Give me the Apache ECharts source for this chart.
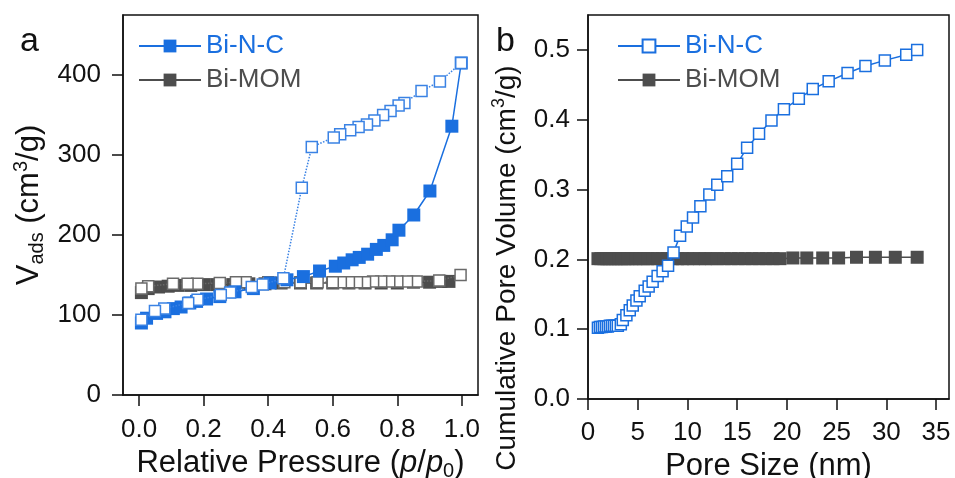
<!DOCTYPE html>
<html>
<head>
<meta charset="utf-8">
<script src="https://cdn.jsdelivr.net/npm/echarts@6/dist/echarts.min.js"></script>
<style>
html,body{margin:0;padding:0;background:#fff;}
#main{width:955px;height:478px;}
</style>
</head>
<body>
<div id="main"></div>
<script>
// panel a: N2 isotherms
var ncAdsX = [0.007,0.023,0.054,0.08,0.106,0.13,0.157,0.178,0.209,0.25,0.297,0.354,0.406,0.458,0.509,0.559,0.608,0.634,0.66,0.682,0.708,0.735,0.758,0.784,0.805,0.851,0.901,0.969,0.998];
var ncAdsY = [90,96,102,104,108,110,115,117,120,123,129,133,140,144,148,155,161,165,169,172,176,182,187,194,206,225,255,336,415];
var ncDesX = [0.998,0.932,0.875,0.822,0.804,0.779,0.756,0.729,0.706,0.68,0.654,0.623,0.603,0.535,0.504,0.447,0.383,0.349,0.282,0.253,0.181,0.152,0.078,0.049,0.007];
var ncDesY = [415,392,380,365,362,355,350,343,338,335,331,326,322,310,259,146,138,135,128,125,119,115,108,105,94];
var momAdsX = [0.007,0.028,0.06,0.09,0.12,0.16,0.2,0.24,0.29,0.34,0.39,0.44,0.5,0.55,0.6,0.65,0.7,0.75,0.8,0.85,0.9,0.935,0.96];
var momAdsY = [128,133,135,136,137,137,138,138,138,139,139,140,140,140,140,140,140,140,140,141,141,142,142];
var momDesX = [0.996,0.93,0.86,0.83,0.8,0.775,0.75,0.725,0.7,0.675,0.65,0.625,0.6,0.553,0.5,0.45,0.4,0.33,0.3,0.25,0.18,0.15,0.105,0.028,0.007];
var momDesY = [150,143,142,142,142,142,142,142,141,141,141,141,141,141,141,141,141,141,141,140,139,139,139,136,133];

// panel b: cumulative pore volume
var ncPoreX = [1.0,1.2,1.4,1.6,1.8,2.0,2.2,2.4,2.6,2.8,3.0,3.3,3.5,3.86,4.2,4.5,4.87,5.2,5.7,6.1,6.5,7.0,7.5,8.05,8.6,9.26,9.93,10.56,11.3,12.2,13.0,14.0,15.0,16.0,17.2,18.45,19.7,21.2,22.6,24.2,26.1,27.9,29.85,32.0,33.1];
var ncPoreY = [0.102,0.103,0.103,0.104,0.104,0.104,0.105,0.105,0.105,0.105,0.105,0.107,0.113,0.12,0.127,0.134,0.141,0.147,0.155,0.161,0.168,0.176,0.183,0.191,0.21,0.234,0.247,0.26,0.276,0.293,0.307,0.319,0.337,0.36,0.38,0.399,0.415,0.43,0.444,0.455,0.467,0.477,0.485,0.493,0.5];
var momPoreX = [1.0,1.3,1.6,1.9,2.2,2.5,2.8,3.1,3.4,3.7,4.0,4.4,4.8,5.2,5.6,6.0,6.5,7.0,7.5,8.0,8.5,9.0,9.5,10.0,10.6,11.2,11.8,12.4,13.0,13.7,14.4,15.1,15.8,16.5,17.2,17.9,18.6,19.3,20.6,22.0,23.6,25.2,27.0,28.9,30.9,33.1];
var momPoreY = [0.201,0.201,0.201,0.201,0.201,0.201,0.201,0.201,0.201,0.201,0.201,0.201,0.201,0.201,0.201,0.201,0.201,0.201,0.201,0.201,0.201,0.201,0.201,0.201,0.201,0.201,0.201,0.201,0.201,0.201,0.201,0.201,0.201,0.201,0.201,0.201,0.201,0.201,0.202,0.202,0.202,0.202,0.203,0.203,0.203,0.203];

// ticks
var ticksAX = [0,0.2,0.4,0.6,0.8,1.0];
var ticksAY = [0,100,200,300,400];
var ticksBX = [0,5,10,15,20,25,30,35];
var ticksBY = [0,0.1,0.2,0.3,0.4,0.5];

var blue = '#1a6fdf';
var grey = '#4d4d4d';
var ink = '#111';
var font = 'Liberation Sans, Arial, sans-serif';

function zip(xs, ys) {
	var out = [];
	for (var i = 0; i < xs.length; i++) out.push([xs[i], ys[i]]);
	return out;
}

function richOf(size) {
	var sub = Math.round(size * 0.65);
	return {
		n: {fontSize: size, lineHeight: size + 5, color: ink, fontFamily: font},
		i: {fontSize: size, lineHeight: size + 5, color: ink, fontFamily: font, fontStyle: 'italic'},
		s: {fontSize: sub, lineHeight: 14, verticalAlign: 'bottom', color: ink, fontFamily: font},
		p: {fontSize: sub, lineHeight: 16, verticalAlign: 'top', color: ink, fontFamily: font}
	};
}

function axisOf(idx, min, max, ticks, fmt, margin) {
	return {
		type: 'value', gridIndex: idx, min: min, max: max,
		splitLine: {show: false},
		axisLine: {onZero: false, lineStyle: {color: ink, width: 1.5}},
		axisTick: {length: 11, customValues: ticks, lineStyle: {color: ink, width: 1.5}},
		axisLabel: {customValues: ticks, formatter: fmt, color: ink, fontSize: 26, fontFamily: font, margin: margin},
		nameLocation: 'middle',
		nameTextStyle: {color: ink, fontFamily: font, rich: richOf(31)}
	};
}

var xa = axisOf(0, -0.05, 1.05, ticksAX, function (v) { return v.toFixed(1); }, 22);
xa.name = '{n|Relative Pressure (}{i|p}{n|/}{i|p}{s|0}{n|)}';
xa.nameGap = 44;
var xb = axisOf(1, 0, 36.3, ticksBX, function (v) { return String(v); }, 21);
xb.name = '{n|Pore Size (nm)}';
xb.nameGap = 42;
var ya = axisOf(0, 0, 475, ticksAY, function (v) { return String(v); }, 22);
ya.name = '{n|V}{s|ads}{n| (cm}{p|3}{n|/g)}';
ya.nameGap = 76;
ya.nameRotate = 90;
var yb = axisOf(1, 0, 0.55, ticksBY, function (v) { return v.toFixed(1); }, 18);

var chart = echarts.init(document.getElementById('main'));

function sq(name, xi, xs, ys, filled, color, size, lineType, z) {
	return {
		name: name, type: 'line', xAxisIndex: xi, yAxisIndex: xi,
		data: zip(xs, ys), symbol: 'rect', symbolSize: size, showAllSymbol: true,
		z: z,
		lineStyle: {color: color, width: 1.5, type: lineType},
		itemStyle: filled ? {color: color, borderColor: color, borderWidth: 0}
		                  : {color: '#fff', borderColor: color, borderWidth: 1.5}
	};
}

var option = {
	backgroundColor: '#fff',
	animation: false,
	grid: [
		{left: 123, top: 15, width: 355, height: 380, show: true, borderColor: ink, borderWidth: 1.5, outerBoundsMode: 'none', containLabel: false},
		{left: 588, top: 15, width: 361, height: 384, show: true, borderColor: ink, borderWidth: 1.5, outerBoundsMode: 'none', containLabel: false}
	],
	xAxis: [xa, xb],
	yAxis: [ya, yb],
	legend: [
		{
			left: 133, top: 28, orient: 'vertical', itemWidth: 62, itemHeight: 16, itemGap: 8,
			textStyle: {fontSize: 26, fontFamily: font},
			formatter: function (n) { return n.split(' (')[0]; },
			data: [{name: 'Bi-N-C (a)', textStyle: {color: blue}}, {name: 'Bi-MOM (a)', textStyle: {color: grey}}]
		},
		{
			left: 612, top: 28, orient: 'vertical', itemWidth: 62, itemHeight: 16, itemGap: 8,
			textStyle: {fontSize: 26, fontFamily: font},
			formatter: function (n) { return n.split(' (')[0]; },
			data: [{name: 'Bi-N-C (b)', textStyle: {color: blue}}, {name: 'Bi-MOM (b)', textStyle: {color: grey}}]
		}
	],
	graphic: [
		{type: 'text', left: 20, top: 25, style: {text: 'a', fontSize: 34, fontFamily: font, fill: ink}},
		{type: 'text', left: 496, top: 25, style: {text: 'b', fontSize: 34, fontFamily: font, fill: ink}},
		// panel b y title sits lower than the axis middle, so it is placed by hand
		{
			type: 'text', x: 507, y: 268, rotation: Math.PI / 2,
			style: {
				text: '{n|Cumulative Pore Volume (cm}{p|3}{n|/g)}',
				rich: richOf(28), align: 'center', verticalAlign: 'middle', fill: ink
			}
		}
	],
	series: [
		sq('Bi-MOM (a)', 0, momAdsX, momAdsY, true, grey, 13, 'solid', 2),
		sq('Bi-MOM des', 0, momDesX, momDesY, false, '#6a6a6a', 11, 'dotted', 3),
		sq('Bi-N-C (a)', 0, ncAdsX, ncAdsY, true, blue, 13, 'solid', 4),
		sq('Bi-N-C des', 0, ncDesX, ncDesY, false, '#3a82e4', 11, 'dotted', 5),
		sq('Bi-MOM (b)', 1, momPoreX, momPoreY, true, grey, 13, 'solid', 2),
		sq('Bi-N-C (b)', 1, ncPoreX, ncPoreY, false, blue, 11, 'solid', 3)
	]
};
chart.setOption(option);
</script>
</body>
</html>
